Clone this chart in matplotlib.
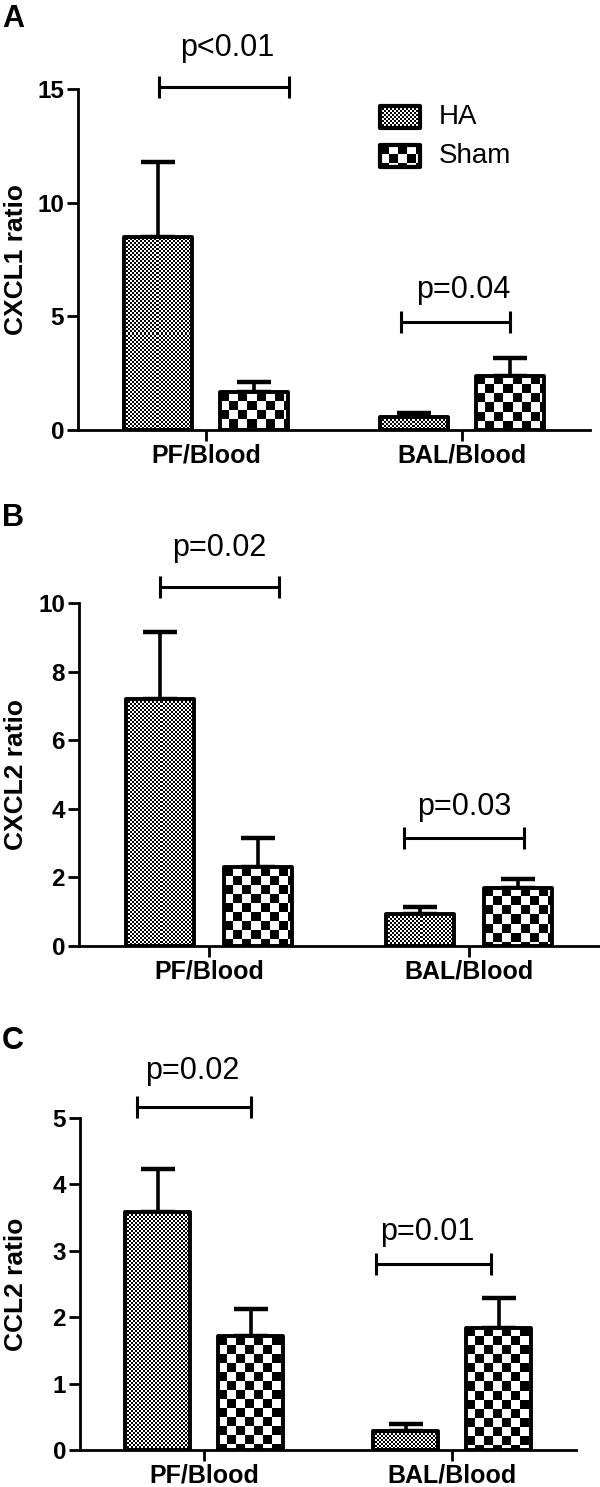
import matplotlib
matplotlib.use("Agg")
import matplotlib.pyplot as plt
import numpy as np
from matplotlib.patches import Rectangle

plt.rcParams['font.family'] = ['Liberation Sans', 'DejaVu Sans']

groups = ['PF/Blood', 'BAL/Blood']

cxcl1_ha = [8.5, 0.56]
cxcl1_ha_err = [3.3, 0.18]
cxcl1_sham = [1.67, 2.38]
cxcl1_sham_err = [0.44, 0.8]

cxcl2_ha = [7.2, 0.93]
cxcl2_ha_err = [1.95, 0.22]
cxcl2_sham = [2.3, 1.7]
cxcl2_sham_err = [0.85, 0.25]

ccl2_ha = [3.58, 0.28]
ccl2_ha_err = [0.65, 0.11]
ccl2_sham = [1.71, 1.84]
ccl2_sham_err = [0.41, 0.45]

# (x0, x1, y, label, text x, text y)
brackets_a = [(-0.184, 0.324, 15.1, 'p<0.01', 0.083, 16.8),
              (0.76, 1.187, 4.75, 'p=0.04', 1.005, 6.15)]
brackets_b = [(-0.19, 0.27, 10.47, 'p=0.02', 0.04, 11.6),
              (0.75, 1.21, 3.15, 'p=0.03', 0.98, 4.05)]
brackets_c = [(-0.271, 0.191, 5.17, 'p=0.02', -0.047, 5.71),
              (0.694, 1.156, 2.8, 'p=0.01', 0.90, 3.28)]

W, H = 600, 1487
fig = plt.figure(figsize=(W / 100, H / 100), dpi=100)

HA_SQ = 2
SHAM_SQ = 9


def px_axes(left, right, top, bottom):
    return fig.add_axes([left / W, 1 - bottom / H, (right - left) / W, (bottom - top) / H])


def pattern_fill(ax, patch, x0, y0, x1, y1, sq):
    p0 = ax.transData.transform((x0, y0))
    p1 = ax.transData.transform((x1, y1))
    w = int(round(abs(p1[0] - p0[0])))
    h = int(round(abs(p1[1] - p0[1])))
    if w < 1 or h < 1:
        return
    jj, ii = np.meshgrid(np.arange(w), np.arange(h))
    arr = ((jj // sq + ii // sq) % 2).astype(float)
    im = ax.imshow(arr, cmap='gray', vmin=0, vmax=1, extent=(x0, x1, y0, y1),
                   interpolation='nearest', aspect='auto', zorder=2.5)
    im.set_clip_path(patch)


def panel(ax, ha, ha_err, sham, sham_err, ymax, yticks, ylabel, brackets, letter, letter_y):
    ax.set_xlim(-0.5, 1.5)
    ax.set_ylim(0, ymax)
    x = np.arange(len(groups))
    off, bw = 0.1875, 0.262
    for xs, vals, errs, sq in [(x - off, ha, ha_err, HA_SQ), (x + off, sham, sham_err, SHAM_SQ)]:
        ax.errorbar(xs, vals, yerr=[np.zeros(len(vals)), errs], fmt='none', ecolor='black',
                    elinewidth=2.6, capsize=12.5, capthick=3.2, zorder=2)
        bars = ax.bar(xs, vals, width=bw, facecolor='none', edgecolor='black',
                      linewidth=2.8, zorder=3)
        for b in bars:
            b.set_joinstyle('round')
            pattern_fill(ax, b, b.get_x(), 0, b.get_x() + b.get_width(), b.get_height(), sq)

    for x0, x1, y, txt, tx, ty in brackets:
        ax.plot([x0, x1], [y, y], color='black', lw=2.2, marker='|', markersize=16,
                mew=2.2, clip_on=False)
        ax.text(tx, ty, txt, ha='center', va='center', fontsize=22, clip_on=False)

    ax.set_xlim(-0.5, 1.5)
    ax.set_ylim(0, ymax)
    ax.spines['top'].set_visible(False)
    ax.spines['right'].set_visible(False)
    for s in ['left', 'bottom']:
        ax.spines[s].set_linewidth(2)
    ax.set_yticks(yticks)
    ax.set_yticklabels([str(t) for t in yticks], fontsize=17.5, fontweight='bold')
    ax.set_xticks(x)
    ax.set_xticklabels(groups, fontsize=18, fontweight='bold')
    ax.tick_params(axis='both', width=2, length=8, pad=2)
    ax.tick_params(axis='x', pad=1.5)
    ax.set_ylabel(ylabel, fontsize=19, fontweight='bold')
    bb = ax.get_position()
    ax.yaxis.set_label_coords((28 / W - bb.x0) / bb.width, 0.5)
    fig.text(2 / W, 1 - letter_y / H, letter, fontsize=22, fontweight='bold', ha='left', va='top')


ax_a = px_axes(78, 590, 89, 430)
ax_b = px_axes(79, 599, 603, 946)
ax_c = px_axes(80, 576, 1118, 1450)

panel(ax_a, cxcl1_ha, cxcl1_ha_err, cxcl1_sham, cxcl1_sham_err, 15, [0, 5, 10, 15],
      'CXCL1 ratio', brackets_a, 'A', 4)
panel(ax_b, cxcl2_ha, cxcl2_ha_err, cxcl2_sham, cxcl2_sham_err, 10, [0, 2, 4, 6, 8, 10],
      'CXCL2 ratio', brackets_b, 'B', 503)
panel(ax_c, ccl2_ha, ccl2_ha_err, ccl2_sham, ccl2_sham_err, 5, [0, 1, 2, 3, 4, 5],
      'CCL2 ratio', brackets_c, 'C', 1026)

# legend in panel A
for yc, sq, name in [(13.77, HA_SQ, 'HA'), (12.05, SHAM_SQ, 'Sham')]:
    r = Rectangle((0.68, yc - 0.48), 0.155, 0.96, facecolor='none', edgecolor='black',
                  linewidth=3, joinstyle='round', zorder=3, clip_on=False)
    ax_a.add_patch(r)
    pattern_fill(ax_a, r, 0.68, yc - 0.48, 0.835, yc + 0.48, sq)
    ax_a.text(0.91, yc, name, ha='left', va='center', fontsize=20)
ax_a.set_xlim(-0.5, 1.5)
ax_a.set_ylim(0, 15)

fig.savefig('out.png', dpi=100)
